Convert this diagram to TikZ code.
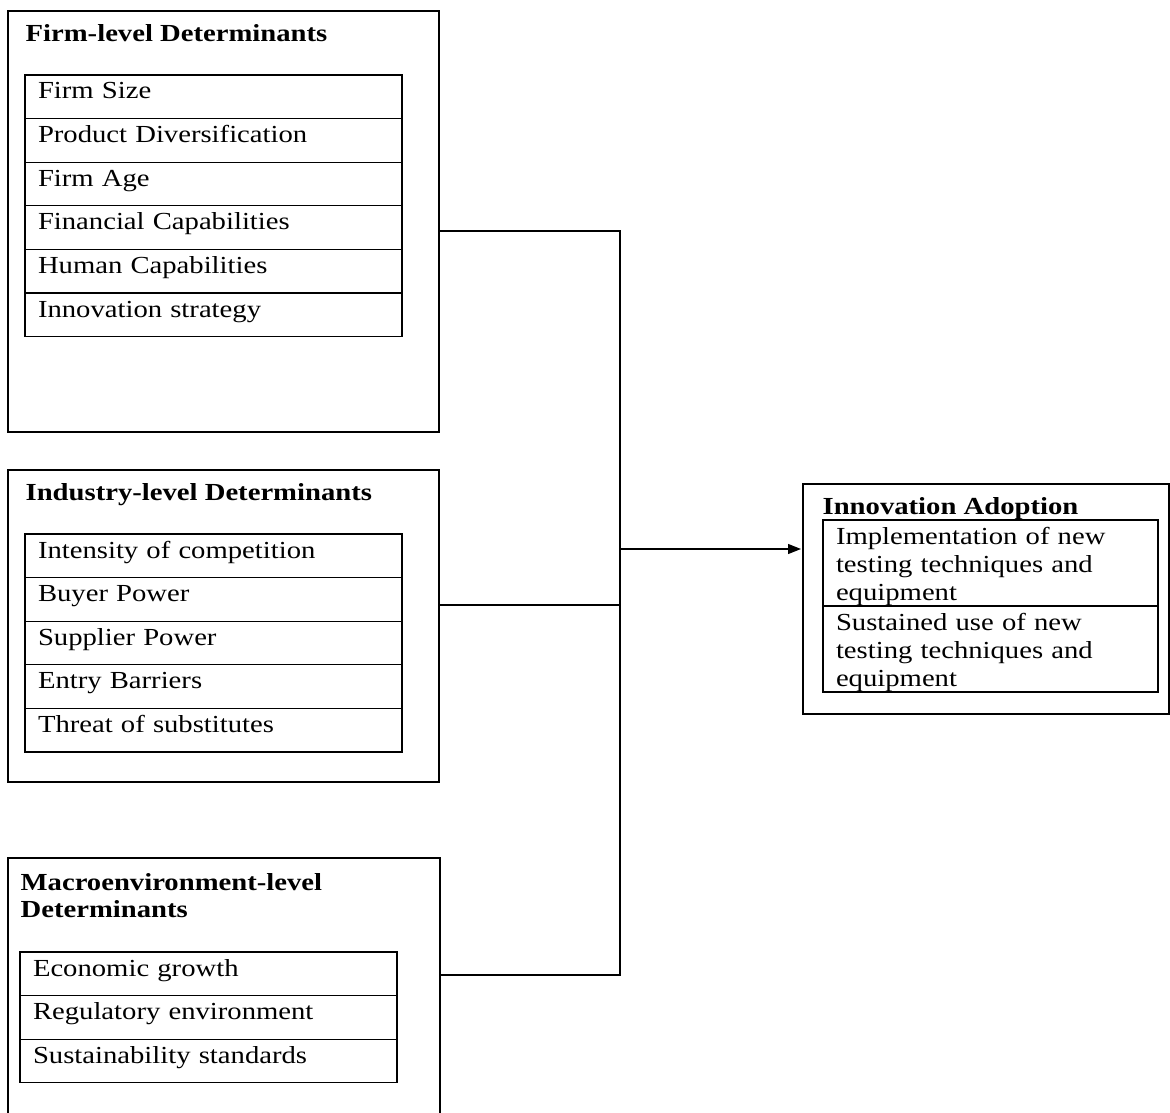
\documentclass[tikz,border=0pt]{standalone}
\usepackage{fontspec}
\setmainfont{Liberation Serif}[FakeStretch=1.17]
\usetikzlibrary{positioning,arrows.meta}

\begin{document}
\begin{tikzpicture}[x=1pt, y=-1pt, >={Triangle[length=13pt,width=10pt]}, line width=1.3pt,
        group/.style={draw, rectangle, inner sep=0pt, outer sep=0pt, anchor=north west},
        head/.style={anchor=base west, inner sep=0pt, align=left, font=\fontsize{24.5pt}{27pt}\selectfont\bfseries},
        item/.style={draw, rectangle, anchor=north west, outer sep=0pt, inner xsep=13pt, inner ysep=6pt, text width=351pt,
            text height=18pt, text depth=13.6pt, align=left, font=\fontsize{24.5pt}{28pt}\selectfont},
        effect/.style={draw, rectangle, anchor=north west, outer sep=0pt, inner xsep=13pt, inner ysep=0pt, text width=309pt,
            text height=24pt, text depth=62pt, align=left, font=\fontsize{24.5pt}{28pt}\selectfont}]
        \useasboundingbox (0,0) rectangle (1170,1113);

        % Firm-level block
        \node [group, minimum width=431pt, minimum height=421pt] (firm) at (8,11) {};
        \node [head] (firmT) at (25,42) {Firm-level Determinants};
        \node [item] (f1) at (25,75) {Firm Size};
        \node [item, below=0pt of f1] (f2) {Product Diversification};
        \node [item, below=0pt of f2] (f3) {Firm Age};
        \node [item, below=0pt of f3] (f4) {Financial Capabilities};
        \node [item, below=0pt of f4] (f5) {Human Capabilities};
        \node [item, below=0pt of f5] (f6) {Innovation strategy};

        % Industry-level block
        \node [group, minimum width=431pt, minimum height=312pt] (industry) at (8,470) {};
        \node [head] (indT) at (25,500) {Industry-level Determinants};
        \node [item] (i1) at (25,534) {Intensity of competition};
        \node [item, below=0pt of i1] (i2) {Buyer Power};
        \node [item, below=0pt of i2] (i3) {Supplier Power};
        \node [item, below=0pt of i3] (i4) {Entry Barriers};
        \node [item, below=0pt of i4] (i5) {Threat of substitutes};

        % Macroenvironment-level block (runs off the page bottom)
        \node [group, minimum width=432pt, minimum height=280pt] (macro) at (8,858) {};
        \node [head] (macT) at (20,917) {Macroenvironment-level\\Determinants};
        \node [item] (m1) at (20,952) {Economic growth};
        \node [item, below=0pt of m1] (m2) {Regulatory environment};
        \node [item, below=0pt of m2] (m3) {Sustainability standards};

        % Innovation adoption block
        \node [group, minimum width=366pt, minimum height=230pt] (adopt) at (803,484) {};
        \node [head] (adT) at (822,514) {Innovation Adoption};
        \node [effect] (a1) at (823,520) {Implementation of new\\testing techniques and\\equipment};
        \node [effect, below=0pt of a1] (a2) {Sustained use of new\\testing techniques and\\equipment};

        % Joints on the bus line
        \coordinate (jf) at (620,231);
        \coordinate (ji) at (620,605);
        \coordinate (jm) at (620,975);
        \coordinate (jo) at (620,549);

        % Connectors
        \draw (firm.east |- jf) -- (jf) -- (jm) -- (macro.east |- jm);
        \draw (industry.east |- ji) -- (ji);
        \draw[->, shorten >=2pt] (jo) -- (adopt.west |- jo);
    \end{tikzpicture}
\end{document}
